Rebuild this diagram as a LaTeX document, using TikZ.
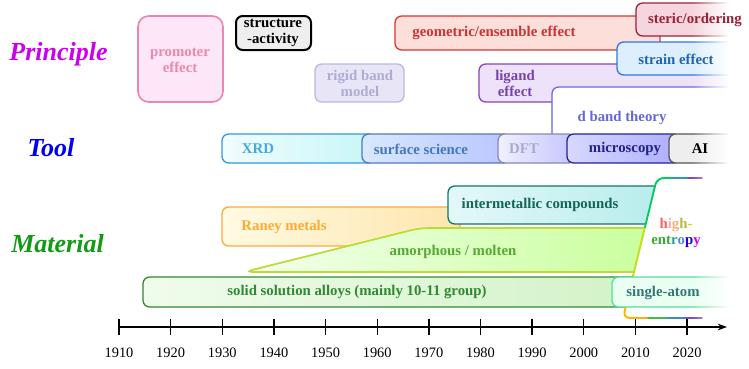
\documentclass[tikz,border=0pt]{standalone}
\usepackage{fontspec}
\setmainfont{Liberation Serif}
\usetikzlibrary{arrows.meta,fadings}

\definecolor{princ}{HTML}{CC00EE}
\definecolor{toolc}{HTML}{0000EE}
\definecolor{matc}{HTML}{129A12}
% principle boxes
\definecolor{promF}{HTML}{FDE6F8}\definecolor{promB}{HTML}{EC86AE}\definecolor{promT}{HTML}{EE88AA}
\definecolor{rigF}{HTML}{E8E6F6}\definecolor{rigB}{HTML}{BCB8E0}\definecolor{rigT}{HTML}{AEACD4}
\definecolor{geoF}{HTML}{FDDFDA}\definecolor{geoB}{HTML}{DD3333}\definecolor{geoT}{HTML}{CC3333}
\definecolor{sterF}{HTML}{F5D6DE}\definecolor{sterB}{HTML}{992238}
\definecolor{strF}{HTML}{DDEEFF}\definecolor{strB}{HTML}{3377DD}\definecolor{strT}{HTML}{2266AA}
\definecolor{ligF}{HTML}{EEE2FA}\definecolor{ligB}{HTML}{8844BB}\definecolor{ligT}{HTML}{7744AA}
\definecolor{dbB}{HTML}{6666EE}\definecolor{dbT}{HTML}{6666DD}
% tool boxes
\definecolor{xrdL}{HTML}{F2FCFF}\definecolor{xrdR}{HTML}{C6F6F8}\definecolor{xrdB}{HTML}{3399DD}\definecolor{xrdT}{HTML}{44AADD}
\definecolor{surL}{HTML}{D8E8FF}\definecolor{surR}{HTML}{B8C6FF}\definecolor{surB}{HTML}{5577BB}\definecolor{surT}{HTML}{4477BB}
\definecolor{dftL}{HTML}{F0F0FF}\definecolor{dftR}{HTML}{C4C4FF}\definecolor{dftB}{HTML}{8888BB}\definecolor{dftT}{HTML}{AAAACC}
\definecolor{micL}{HTML}{D8D8FF}\definecolor{micR}{HTML}{ADADFF}\definecolor{micB}{HTML}{222299}\definecolor{micT}{HTML}{222288}
\definecolor{aiF}{HTML}{EEEEEE}\definecolor{aiB}{HTML}{555555}
% material boxes
\definecolor{intL}{HTML}{E4F8F8}\definecolor{intR}{HTML}{B6ECEC}\definecolor{intB}{HTML}{117766}\definecolor{intT}{HTML}{116655}
\definecolor{ranL}{HTML}{FFFAE2}\definecolor{ranR}{HTML}{FDE6AE}\definecolor{ranB}{HTML}{FFAA33}
\definecolor{amoL}{HTML}{F4FFEE}\definecolor{amoR}{HTML}{C8FF99}\definecolor{amoB}{HTML}{BBDD33}\definecolor{amoT}{HTML}{55AA33}
\definecolor{solL}{HTML}{F0FCEC}\definecolor{solR}{HTML}{D2F2C8}\definecolor{solB}{HTML}{338833}
\definecolor{sinF}{HTML}{EAFFF2}\definecolor{sinB}{HTML}{55DD99}\definecolor{sinT}{HTML}{337777}

\tikzset{
  bar/.style={rounded corners=5pt, line width=1pt},
  txt/.style={font=\fontsize{11.1}{12}\selectfont\bfseries, align=center, inner sep=0pt},
  side/.style={font=\fontsize{19.5}{22}\selectfont\bfseries\itshape, inner sep=0pt, anchor=base},
  year/.style={font=\fontsize{10.8}{12}\selectfont, inner sep=0pt},
  hedge/.style={line width=1.4pt, line cap=round}
}

\begin{document}
\begin{tikzpicture}[x=0.75pt, y=-0.75pt]
\useasboundingbox (0,0) rectangle (749,368);

% row labels
\node[side, text=princ] (principle) at (58.5,60) {Principle};
\node[side, text=toolc] (tool) at (51,156) {Tool};
\node[side, text=matc] (material) at (57.5,252) {Material};

% principle row
\draw[bar, rounded corners=8pt, line width=1.2pt, draw=promB, fill=promF] (138,16) rectangle (223,102);
\draw[bar, line width=1.5pt, draw=black, fill=aiF] (236,16) rectangle (311,50);
\draw[bar, draw=rigB, fill=rigF] (315,64) rectangle (404,102);
\draw[bar, draw=geoB, fill=geoF] (395,16) rectangle (660,50);
\draw[bar, draw=sterB, fill=sterF] (636,3) rectangle (760,36);
\draw[bar, draw=ligB, fill=ligF] (479,64) rectangle (760,102);
\draw[bar, draw=strB, fill=strF] (617,42) rectangle (760,75);
\draw[bar, draw=dbB, fill=white] (552,87) rectangle (760,146);

% tool row
\draw[bar, draw=xrdB, left color=xrdL, right color=xrdR] (222,134) rectangle (375,163);
\draw[bar, draw=surB, left color=surL, right color=surR] (362,134) rectangle (510,163);
\draw[bar, draw=dftB, left color=dftL, right color=dftR] (498,134) rectangle (575,163);
\draw[bar, draw=micB, left color=micL, right color=micR] (567,134) rectangle (680,163);
\draw[bar, draw=aiB, fill=aiF] (669,134) rectangle (760,163);

% material row
\draw[bar, draw=ranB, left color=ranL, right color=ranR] (222,207) rectangle (460,246);
\draw[bar, draw=intB, left color=intL, right color=intR] (448,186) rectangle (668,224);
\draw[bar, rounded corners=7pt, line width=1.3pt, draw=amoB, left color=amoL, right color=amoR] (244,272) -- (420,228) -- (668,228) -- (658,272) -- cycle;
\draw[bar, draw=solB, left color=solL, right color=solR] (143,277) rectangle (640,307);

% high-entropy frame
\fill[white, rounded corners=5pt] (657,178) -- (705,178) -- (705,318) -- (623,318) -- cycle;
\draw[hedge, draw=orange!60!yellow, rounded corners=5pt] (648,318) -- (623,318) -- (633,276);
\draw[hedge, draw=yellow!75!green] (633,276) -- (645,227);
\draw[hedge, draw=green!55!cyan!80!black, rounded corners=5pt] (645,227) -- (657,178) -- (672,178);
\draw[hedge, draw=cyan!75!black] (672,178) -- (688,178);
\draw[hedge, draw=blue!45!violet!70] (688,178) -- (702,178);
\draw[hedge, draw=green!60!black!70] (648,318) -- (668,318);
\draw[hedge, draw=cyan!70!black] (668,318) -- (686,318);
\draw[hedge, draw=blue!45!violet!70] (686,318) -- (702,318);

\draw[bar, draw=sinB, fill=sinF] (612,277) rectangle (760,307);

% fade at the right
\fill[white, path fading=west] (692,0) rectangle (729,321);
\fill[white] (728,0) rectangle (749,321);

% texts
\node[txt, text=promT] (promoter) at (180,60) {promoter\\effect};
\node[txt, text=black] (structure) at (273,33) {structure\\-activity};
\node[txt, text=rigT] (rigid) at (360,83) {rigid band\\model};
\node[txt, text=geoT] (geometric) at (494,33) {geometric/ensemble effect};
\node[txt, text=sterB] (steric) at (695,20) {steric/ordering};
\node[txt, text=strT] (strain) at (676,59) {strain effect};
\node[txt, text=ligT] (ligand) at (515,83) {ligand\\effect};
\node[txt, text=dbT] (dband) at (622,118) {d band theory};

\node[txt, text=xrdT] (xrd) at (258,149) {XRD};
\node[txt, text=surT] (surface) at (421,149) {surface science};
\node[txt, text=dftT] (dft) at (524,149) {DFT};
\node[txt, text=micT] (microscopy) at (625,149) {microscopy};
\node[txt, text=black] (ai) at (700,149) {AI};

\node[txt, text=intT] (intermetallic) at (540,205) {intermetallic compounds};
\node[txt, text=ranB] (raney) at (284,227) {Raney metals};
\node[txt, text=amoT] (amorphous) at (453,252) {amorphous / molten};
\node[txt, text=solB] (solid) at (357,292) {solid solution alloys (mainly 10-11 group)};
\node[txt, text=sinT] (single) at (663,293) {single-atom};
\node[txt] (entropy) at (676,233) {\textcolor{red!50!pink}{h}\textcolor{pink!90!red}{i}\textcolor{orange!60!brown!60}{g}\textcolor{olive!60}{h}\textcolor{yellow!70!olive}{-}\\
  \textcolor{green!60!black!80}{ent}\textcolor{teal!80}{r}\textcolor{cyan!50!blue!70}{o}\textcolor{blue!70!violet}{p}\textcolor{princ}{y}};

% time axis
\draw[line width=1pt, -{Stealth[length=7pt, width=5pt]}] (119,327) -- (727,327);
\foreach \yr [count=\i from 0] in {1910,1920,...,2020} {
  \draw[line width=1pt] (119+51.64*\i,319) -- (119+51.64*\i,335);
  \node[year] (y\yr) at (119+51.64*\i,352.5) {\yr};
}
\end{tikzpicture}
\end{document}
